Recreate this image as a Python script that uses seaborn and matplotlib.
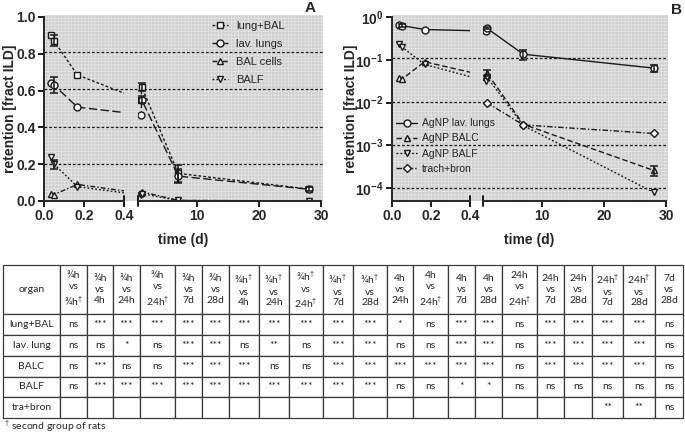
import numpy as np
import matplotlib
matplotlib.use('Agg')
import matplotlib.pyplot as plt
from matplotlib.patches import Rectangle
from matplotlib.ticker import NullLocator
import seaborn as sns

# sampling times (d): 3/4h, 3/4h (2nd group), 4h, 24h, 24h (2nd group), 7d, 28d
time_d = [0.035, 0.05, 0.167, 1.0, 1.1, 7.0, 28.0]

# retention, fraction of intratracheally instilled dose
lung_bal = [0.90, 0.87, 0.685, 0.55, 0.62, 0.15, 0.065]
lung_bal_err = [0, 0.03, 0, 0, 0.02, 0.045, 0]
lav_lungs = [0.64, 0.63, 0.51, 0.47, 0.55, 0.135, 0.064]
lav_lungs_err = [0, 0.045, 0, 0, 0.02, 0.038, 0.012]
bal_cells = [0.037, 0.035, 0.09, 0.042, 0.05, 0.0031, 0.00026]
bal_cells_err = [0, 0, 0, 0, 0.008, 0, 0.00007]
balf = [0.24, 0.20, 0.078, 0.032, 0.040, 0.0029, 0.00008]
balf_err = [0, 0.025, 0, 0, 0, 0, 0]
trach_bron = [np.nan, np.nan, np.nan, np.nan, 0.010, 0.003, 0.0019]

# pairwise tests table
organs = ['lung+BAL', 'lav. lung', 'BALC', 'BALF', 'tra+bron']
comparisons = [('¾h', '¾h†'), ('¾h', '4h'), ('¾h', '24h'), ('¾h', '24h†'), ('¾h', '7d'),
               ('¾h', '28d'), ('¾h†', '4h'), ('¾h†', '24h'), ('¾h†', '24h†'), ('¾h†', '7d'),
               ('¾h†', '28d'), ('4h', '24h'), ('4h', '24h†'), ('4h', '7d'), ('4h', '28d'),
               ('24h', '24h†'), ('24h', '7d'), ('24h', '28d'), ('24h†', '7d'), ('24h†', '28d'),
               ('7d', '28d')]
sig_lung_bal = ['ns', '***', '***', '***', '***', '***', '***', '***', '***', '***', '***',
                '*', 'ns', '***', '***', 'ns', '***', '***', '***', '***', 'ns']
sig_lav_lung = ['ns', 'ns', '*', 'ns', '***', '***', 'ns', '**', 'ns', '***', '***',
                'ns', 'ns', '***', '***', 'ns', '***', '***', '***', '***', 'ns']
sig_balc = ['ns', '***', 'ns', 'ns', '***', '***', '***', 'ns', 'ns', '***', '***',
            '***', '***', '***', '***', 'ns', '***', '***', '***', '***', 'ns']
sig_balf = ['ns', '***', '***', '***', '***', '***', '***', '***', '***', '***', '***',
            'ns', 'ns', '*', '*', 'ns', 'ns', 'ns', 'ns', 'ns', 'ns']
sig_trach = [''] * 18 + ['**', '**', 'ns']

sns.set_theme(style='ticks')
plt.rcParams['font.family'] = ['Liberation Sans', 'DejaVu Sans']
plt.rcParams['mathtext.fontset'] = 'custom'
plt.rcParams['mathtext.rm'] = 'Liberation Sans'
plt.rcParams['mathtext.bf'] = 'Liberation Sans:bold'
plt.rcParams['hatch.linewidth'] = 0.5

W, H = 685, 434
fig = plt.figure(figsize=(W / 100, H / 100), dpi=100)


def rect(x0, x1, ytop, ybot):
    return [x0 / W, 1 - ybot / H, (x1 - x0) / W, (ybot - ytop) / H]


def map_x(src, dst, xs, yref):
    pts = np.column_stack([xs, np.full(len(xs), yref)])
    return dst.transData.inverted().transform(src.transData.transform(pts))[:, 0]


def make_panel(x0, xl, xr, x1, ylim, log, grid):
    bg = fig.add_axes(rect(x0, x1 + 2, 15, 201), zorder=0)
    axl = fig.add_axes(rect(x0, xl, 17, 201), zorder=2)
    axr = fig.add_axes(rect(xr, x1, 17, 201), zorder=2)
    for ax in (bg, axl, axr):
        if log:
            ax.set_yscale('log')
        ax.set_ylim(ylim)
    bg.add_patch(Rectangle((0, 0), 1, 1, transform=bg.transAxes, facecolor='#d0d0d0',
                           edgecolor='#e6e6e6', hatch='+++++', lw=0))
    bg.set_xlim(0, 1)
    bg.set_xticks([]); bg.set_yticks([])
    bg.yaxis.set_minor_locator(NullLocator())
    for s in bg.spines.values():
        s.set_visible(False)
    for g in grid:
        bg.axhline(g, color='k', lw=0.9, ls=(0, (2.2, 1.6)))
    axl.set_xlim(0, 0.4)
    axr.set_xlim(0.5, 30)
    for ax in (axl, axr):
        ax.set_facecolor('none')
        ax.spines['top'].set_visible(False)
        ax.spines['right'].set_visible(False)
        ax.spines['bottom'].set_linewidth(1.4)
        ax.spines['left'].set_linewidth(1.4)
        ax.tick_params(length=4, width=1.4, labelsize=10, pad=2, color='k')
        ax.yaxis.set_minor_locator(NullLocator())
    axr.spines['left'].set_visible(False)
    axr.set_yticks([])
    axl.set_xticks([0, 0.2, 0.4], ['0.0', '0.2', '0.4'], fontweight='bold')
    axr.set_xticks([10, 20, 30], ['10', '20', '30'], fontweight='bold')
    axl.plot([1, 1], [-0.025, 0.025], transform=axl.transAxes, clip_on=False, color='k', lw=1.4)
    axr.plot([0, 0], [-0.025, 0.025], transform=axr.transAxes, clip_on=False, color='k', lw=1.4)
    return axl, axr


def draw_series(axl, axr, ys, errs, yref, marker, ls, label):
    x = np.array(time_d)
    y = np.array(ys, dtype=float)
    ok = ~np.isnan(y)
    x, y = x[ok], y[ok]
    xl = np.where(x <= 0.4, x, map_x(axr, axl, x, yref))
    xr = np.where(x > 0.4, x, map_x(axl, axr, x, yref))
    style = dict(color='k', lw=1.0, linestyle=ls, marker=marker, ms=5, mfc='#f4f4f4',
                 mec='k', mew=1.0, sort=False, estimator=None, errorbar=None)
    sns.lineplot(x=xl, y=y, ax=axl, **style)
    sns.lineplot(x=xr, y=y, ax=axr, label=label, legend=False, **style)
    handle = [l for l in axr.lines if l.get_label() == label][0]
    if errs is not None:
        e = np.array(errs, dtype=float)[ok]
        for ax, sel in ((axl, x <= 0.4), (axr, x > 0.4)):
            m = sel & (e > 0)
            if m.any():
                ax.errorbar(x[m], y[m], yerr=e[m], fmt='none', ecolor='k', elinewidth=1.1,
                            capsize=3, capthick=1.1, zorder=3)
    return handle


# ---- panel A (linear)
aAl, aAr = make_panel(44, 124, 138, 321, (0, 1.0), False, [0.2, 0.4, 0.6, 0.8])
aAl.set_yticks(np.arange(0, 1.01, 0.2), [f'{v:.1f}' for v in np.arange(0, 1.01, 0.2)],
               fontweight='bold')
hA = [draw_series(aAl, aAr, lung_bal, lung_bal_err, 0.5, 's', (0, (2, 1.5)), 'lung+BAL'),
      draw_series(aAl, aAr, lav_lungs, lav_lungs_err, 0.5, 'o', (0, (6, 2.5)), 'lav. lungs'),
      draw_series(aAl, aAr, bal_cells, None, 0.5, '^', (0, (3.5, 1.5, 1, 1.5)), 'BAL cells'),
      draw_series(aAl, aAr, balf, balf_err, 0.5, 'v', (0, (1.3, 1.5)), 'BALF')]
fig.legend(handles=hA, labels=[h.get_label() for h in hA], loc='upper left',
           bbox_to_anchor=(206 / W, 1 - 15 / H), frameon=False, fontsize=8,
           handlelength=1.5, labelspacing=0.72, handletextpad=0.7, borderpad=0)

# ---- panel B (log)
aBl, aBr = make_panel(392, 470, 483, 666, (10 ** -4.3, 1.0), True, [1e-1, 1e-2, 1e-3, 1e-4])
aBl.set_yticks([1e-4, 1e-3, 1e-2, 1e-1, 1e0],
               [r'$\mathbf{10^{-4}}$', r'$\mathbf{10^{-3}}$', r'$\mathbf{10^{-2}}$',
                r'$\mathbf{10^{-1}}$', r'$\mathbf{10^{0}}$'])
aBl.yaxis.set_minor_locator(NullLocator())
hB = [draw_series(aBl, aBr, lav_lungs, lav_lungs_err, 0.5, 'o', '-', 'AgNP lav. lungs'),
      draw_series(aBl, aBr, bal_cells, bal_cells_err, 0.5, '^', (0, (4, 2)), 'AgNP BALC'),
      draw_series(aBl, aBr, balf, None, 0.5, 'v', (0, (1.3, 1.5)), 'AgNP BALF'),
      draw_series(aBl, aBr, trach_bron, None, 0.5, 'D', (0, (4, 1.5, 1, 1.5)), 'trach+bron')]
for ax in (aBl, aBr):
    for l in ax.lines:
        if l.get_marker() == 'D':
            l.set_markersize(4.2)
fig.legend(handles=hB, labels=[h.get_label() for h in hB], loc='upper left',
           bbox_to_anchor=(391 / W, 1 - 113 / H), frameon=False, fontsize=7.5,
           handlelength=2.0, labelspacing=0.5, handletextpad=0.5, borderpad=0)

for cy_x in (10, 351):
    fig.text(cy_x / W, 1 - 109 / H, 'retention [fract ILD]', rotation=90, ha='center',
             va='center', fontsize=10, fontweight='bold')
for cx in (183, 529):
    fig.text(cx / W, 1 - 240 / H, 'time (d)', ha='center', va='center',
             fontsize=10, fontweight='bold')
fig.text(310 / W, 1 - 8 / H, 'A', ha='center', va='center', fontsize=11, fontweight='bold')
fig.text(677 / W, 1 - 10 / H, 'B', ha='center', va='center', fontsize=11, fontweight='bold')

# ---- significance table
dag = r'$^{\dagger}$'
headers = ['organ'] + ['{}\nvs\n{}'.format(a.replace('†', dag), b.replace('†', dag))
                       for a, b in comparisons]
rows = [[o] + s for o, s in zip(organs, [sig_lung_bal, sig_lav_lung, sig_balc, sig_balf, sig_trach])]
col_px = [57, 27, 26, 27, 35, 27, 27, 30, 30, 34, 30, 34, 26, 35, 27, 27, 35, 27, 28, 31, 32, 28]
tax = fig.add_axes(rect(3, 683, 265, 418), zorder=1)
tax.axis('off')
tbl = tax.table(cellText=rows, colLabels=headers, colWidths=[c / sum(col_px) for c in col_px],
                cellLoc='center', bbox=[0, 0, 1, 1])
tbl.auto_set_font_size(False)
for (r, c), cell in tbl.get_celld().items():
    cell.set_height(49 if r == 0 else 20.5)
    cell.set_edgecolor('#3a3a3a')
    cell.set_linewidth(0.9)
    cell.get_text().set_fontfamily(['Lato', 'DejaVu Sans'])
    cell.get_text().set_fontsize(7.5)
    if c == 0 and r > 0:
        cell._loc = 'left'
        cell.PAD = 0.08
    if r == 0:
        cell.get_text().set_linespacing(1.25)
fig.text(4 / W, 1 - 426 / H, dag + ' second group of rats', fontsize=7.5,
         family=['Lato', 'DejaVu Sans'], va='center')

fig.savefig('out.png', dpi=100)
